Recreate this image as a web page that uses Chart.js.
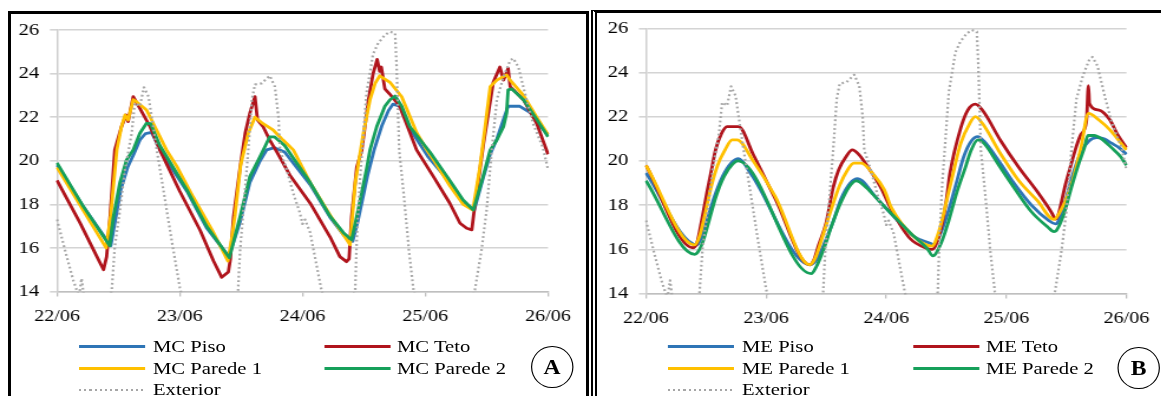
<!DOCTYPE html>
<html>
<head>
<meta charset="utf-8">
<script src="https://cdn.jsdelivr.net/npm/chart.js@4.4.0/dist/chart.umd.min.js"></script>
<style>
  body { margin: 0; background: #fff; width: 1161px; height: 396px; overflow: hidden; position: relative;
         font-family: "Liberation Serif", "Times New Roman", serif; }
  .panel { position: absolute; top: 0; height: 396px; transform-origin: 0 0; }
  .panel canvas { position: absolute; left: 0; top: 0; }
  .key { position: absolute; height: 3px; }
  .lab { position: absolute; font-size: 17.5px; line-height: 20px; color: #000; white-space: nowrap; }
  .circ { position: absolute; border: 1.4px solid #000; border-radius: 50%; box-sizing: border-box;
          font-weight: bold; font-size: 20px; display: flex; align-items: center; justify-content: center; }
  #frameA { position: absolute; left: 8px; top: 11px; width: 581px; height: 420px; border: 3.5px solid #000; box-sizing: border-box; }
  #frameB { position: absolute; left: 591px; top: 10px; width: 600px; height: 420px; border-top: 3px solid #000; border-left: 6px double #000; box-sizing: border-box; }
</style>
</head>
<body>
<div id="frameA"></div>
<div id="frameB"></div>
<div id="panelA" class="panel"></div>
<div id="panelB" class="panel"></div>
<script>
// horizontal stretch of the original figure
const S = 1.18;

const dayLabels = ['22/06', '23/06', '24/06', '25/06', '26/06'];
const yMin = 14, yMax = 26, yStep = 2;

// hours since 22/06 00:00 and temperatures (°C)

// ---- panel A (MC) ----
const aPisoH = [0, 5, 10.5, 11.2, 12.5, 13.8, 15, 16.2, 17.3, 18.5, 20.5, 25.4, 29.3, 33.6, 35.8, 37.7, 39.7, 41, 42.5, 44.5, 49.5, 53.4, 56, 57.8, 58.8, 60.7, 62, 63.5, 64.8, 65.7, 67, 69.2, 72.5, 76.8, 79.4, 81.6, 83.3, 84.7, 86, 87.3, 88.2, 90.5, 92.6, 94, 96];
const aPisoV = [19.8, 17.95, 16.1, 17.0, 18.7, 19.7, 20.3, 20.95, 21.25, 21.3, 20.35, 18.6, 16.9, 15.6, 17.2, 19.0, 20.0, 20.5, 20.6, 20.4, 18.9, 17.4, 16.6, 16.3, 17.2, 19.3, 20.5, 21.6, 22.3, 22.6, 22.5, 21.4, 20.2, 19.0, 18.1, 17.75, 19.2, 20.3, 21.0, 21.9, 22.5, 22.5, 22.2, 21.7, 21.2];

const aTetoH = [0, 4.5, 7.8, 9.1, 9.7, 10.4, 11.3, 12.6, 13.5, 13.9, 14.9, 16.2, 18.2, 20.1, 24, 28, 30.6, 32.2, 33.5, 33.9, 34.5, 35.8, 36.8, 37.7, 38.7, 39.2, 40.3, 41.6, 43, 45.5, 49.5, 53.4, 55.3, 56.6, 57.1, 57.6, 58.6, 59.6, 60.9, 61.8, 62.6, 63.1, 63.4, 64.1, 65.1, 67, 70.3, 73.6, 76.8, 78.8, 80.1, 81.1, 81.5, 83.4, 85.3, 86.6, 87.3, 88.2, 88.6, 91.2, 93.8, 96];
const aTetoV = [19.1, 17.15, 15.6, 15.0, 15.6, 17.5, 20.5, 21.56, 22.1, 21.8, 22.94, 22.4, 21.56, 20.5, 18.6, 16.8, 15.4, 14.65, 14.9, 15.5, 17.4, 19.7, 21.27, 22.18, 22.94, 21.87, 21.56, 20.95, 20.4, 19.35, 18.05, 16.5, 15.6, 15.37, 15.5, 17.44, 19.7, 20.5, 22.8, 24.0, 24.65, 24.1, 24.3, 23.3, 23.05, 22.5, 20.5, 19.27, 18.05, 17.13, 16.9, 16.83, 17.6, 20.8, 23.6, 24.3, 23.7, 24.24, 23.4, 22.8, 21.7, 20.3];

const aPar1H = [0, 9.6, 10.5, 11.7, 12.6, 13.3, 13.9, 14.9, 15.3, 17.5, 19.5, 21.4, 23.4, 26.6, 30.6, 33.4, 34.2, 34.8, 35.9, 37.4, 38.7, 40.3, 42.3, 44.2, 46.2, 49.5, 53.4, 56, 57.3, 58.3, 59.9, 61.2, 62.2, 63.1, 65.1, 67.4, 70.3, 72.3, 73.6, 76.8, 79.4, 81.3, 82.7, 83.7, 84.7, 86, 87.9, 88.6, 91.2, 93.8, 96];
const aPar1V = [19.7, 16.0, 17.5, 20.5, 21.56, 22.1, 21.87, 22.8, 22.75, 22.33, 21.4, 20.5, 19.75, 18.35, 16.7, 15.4, 16.5, 17.5, 19.8, 21.26, 22.0, 21.7, 21.4, 20.95, 20.5, 19.0, 17.5, 16.6, 16.14, 18.97, 21.26, 22.8, 23.55, 23.9, 23.6, 22.94, 21.3, 20.5, 20.05, 18.85, 18.0, 17.74, 19.73, 21.56, 23.4, 23.7, 23.94, 23.7, 23.0, 22.0, 21.2];

const aPar2H = [0, 5, 10.3, 11, 12.3, 13.6, 14.9, 16.2, 17.5, 18.3, 20.1, 25.4, 29.3, 33.7, 35.8, 37.7, 39.7, 41.6, 42.5, 44.5, 49.5, 53.4, 56, 57.6, 58.6, 60.5, 61.2, 62.5, 64.1, 65.1, 66.1, 67.4, 69, 72.9, 76.8, 79.4, 81.4, 83.3, 84.7, 86, 87.3, 87.9, 88.2, 88.9, 91.2, 93.8, 96];
const aPar2V = [19.9, 17.95, 16.1, 17.4, 19.0, 20.04, 20.5, 21.26, 21.72, 21.7, 20.7, 18.66, 16.98, 15.55, 17.44, 19.27, 20.19, 21.1, 21.1, 20.7, 19.0, 17.45, 16.7, 16.37, 17.44, 19.6, 20.5, 21.56, 22.5, 22.8, 22.97, 22.5, 21.56, 20.4, 19.1, 18.2, 17.74, 19.27, 20.5, 20.95, 21.56, 22.18, 23.25, 23.3, 22.8, 21.9, 21.1];

// ---- panel B (ME) ----
const bPisoH = [0, 10.2, 11, 12.3, 13.7, 15.3, 17, 18.5, 21, 32.8, 34, 35.5, 37.3, 39, 40.8, 42.3, 43.2, 45.4, 49, 53.4, 57, 57.5, 59, 60.5, 62, 63.5, 65, 66.3, 67.5, 70.5, 73.5, 77, 80.5, 81.8, 82.2, 83.8, 85.3, 86.9, 88.5, 90, 91.5, 93, 94.5, 96];
const bPisoV = [19.45, 16.2, 16.5, 17.4, 18.4, 19.3, 19.9, 20.1, 19.4, 15.3, 15.5, 16.2, 17.2, 18.3, 19.0, 19.2, 19.1, 18.5, 17.6, 16.6, 16.25, 16.2, 16.8, 17.8, 19.0, 20.2, 20.9, 21.1, 20.9, 20.0, 19.0, 18.0, 17.3, 17.15, 17.2, 18.2, 19.4, 20.4, 20.9, 21.05, 21.0, 20.8, 20.6, 20.3];

const bTetoH = [0, 9.4, 10.2, 11.2, 12.2, 13, 13.9, 15, 16.2, 18.5, 21.4, 25.8, 32.7, 33.5, 34.5, 36, 37.4, 38.5, 40, 41.2, 42.5, 44.7, 46.9, 49, 52.7, 56, 57.2, 58.9, 60, 60.7, 62.9, 64.3, 65.8, 67.2, 70.9, 74.5, 78.2, 81.1, 81.8, 84, 86.9, 88, 88.4, 88.6, 90.5, 92.7, 94.2, 96];
const bTetoV = [19.8, 16.07, 16.3, 17.4, 18.6, 19.5, 20.5, 21.2, 21.55, 21.55, 20.3, 18.3, 15.3, 15.5, 16.2, 17.2, 18.8, 19.6, 20.2, 20.5, 20.3, 19.6, 18.8, 17.8, 16.5, 16.05, 16.0, 16.9, 18.2, 19.4, 21.5, 22.3, 22.57, 22.3, 20.9, 19.7, 18.6, 17.64, 17.37, 19.1, 21.2, 21.8, 23.4, 22.6, 22.3, 21.85, 21.2, 20.6];

const bPar1H = [0, 9.7, 10.7, 11.8, 13, 14.3, 15.8, 17.2, 18.2, 21.4, 25.8, 32.7, 33.8, 35.3, 37, 38.7, 40.3, 41.5, 43, 45.4, 47.6, 49, 53.4, 57.1, 58.5, 60.7, 62.9, 64.7, 65.8, 67.2, 70.9, 74.5, 78.2, 81.5, 82.5, 84.7, 86.9, 88.4, 90.5, 92.7, 94.9, 96];
const bPar1V = [19.8, 16.2, 16.6, 17.6, 18.8, 19.8, 20.5, 20.95, 20.95, 20.0, 18.4, 15.3, 15.6, 16.6, 17.8, 18.9, 19.6, 19.9, 19.9, 19.4, 18.7, 17.9, 16.6, 16.14, 16.8, 18.8, 20.8, 21.7, 22.0, 21.7, 20.3, 19.1, 18.2, 17.35, 17.6, 18.7, 20.6, 22.15, 21.85, 21.4, 20.8, 20.5];

const bPar2H = [0, 9.75, 10.3, 11.3, 12.6, 14, 15.6, 17.3, 18.3, 33, 34, 35.5, 37, 38.7, 40.5, 42, 44, 46.5, 49.5, 53, 56.3, 57.3, 59, 60.5, 62, 63.8, 65, 66.3, 67.5, 70.5, 73.5, 77, 80.3, 81.5, 82, 83.5, 85, 86.5, 87.6, 88.3, 89.5, 91, 93, 94.8, 96];
const bPar2V = [19.1, 15.77, 15.85, 16.3, 17.3, 18.4, 19.3, 19.85, 20.0, 14.9, 15.2, 16.0, 17.0, 18.0, 18.8, 19.1, 18.8, 18.2, 17.5, 16.7, 16.0, 15.7, 16.3, 17.3, 18.5, 19.7, 20.5, 20.95, 20.8, 19.8, 18.8, 17.7, 17.0, 16.8, 16.85, 17.6, 18.8, 19.9, 20.6, 21.15, 21.15, 21.0, 20.6, 20.2, 19.8];

// ---- outdoor air, same in both panels ----
const extH = [0, 1.9, 3.2, 3.8, 4.3, 4.8, 5.3, 7, 9.5, 10.7, 11.3, 12.3, 13.3, 14.6, 15.2, 16.2, 17, 17.9, 18.8, 19.5, 20.8, 22.4, 24, 25, 30, 34, 35.4, 35.8, 37.4, 38.1, 38.7, 40, 41.6, 42.6, 43.3, 43.6, 44.9, 46.2, 47.5, 48, 48.5, 49.5, 50.8, 51.7, 53, 56, 58.3, 58.6, 59.2, 60.5, 61.8, 62.8, 64.1, 65.1, 66.1, 66.4, 66.9, 67.9, 68.8, 69.7, 71, 77, 80.5, 81.7, 83, 84, 85, 86, 87.3, 88.6, 89.2, 90.2, 91.8, 93.1, 95, 96];
const extV = [17.3, 15.6, 14.5, 14.1, 13.8, 14.6, 13.7, 12.5, 12.8, 14.07, 16.06, 17.74, 19.6, 21.26, 22.65, 22.5, 23.37, 22.94, 21.56, 20.5, 18.66, 16.37, 14.2, 13.2, 11.5, 12.5, 14.07, 15.9, 20.5, 22.8, 23.5, 23.55, 23.9, 23.4, 22.0, 20.5, 19.6, 18.5, 17.6, 17.1, 17.3, 16.7, 15.14, 14.07, 13.0, 12.5, 14.07, 16.37, 19.0, 23.1, 24.9, 25.4, 25.77, 25.92, 25.85, 24.3, 20.5, 18.2, 15.9, 14.07, 13.0, 12.0, 13.0, 14.07, 15.9, 17.74, 20.5, 22.8, 23.86, 24.6, 24.7, 24.3, 22.8, 21.7, 20.6, 19.6];

const colors = ['#2E75B6', '#B0141C', '#FFC000', '#16A05A', '#A6A6A6'];
const drawOrder = [4, 3, 2, 1, 0];   // exterior on top, like the spreadsheet

const panels = [
  { key: 'A', left: 0, width: 590, plotL: 57, plotR: 548, top: 30, bottom: 291.5, circle: [552, 367], smooth: false,
    names: ['MC Piso', 'MC Teto', 'MC Parede 1', 'MC Parede 2', 'Exterior'],
    series: [[aPisoH, aPisoV], [aTetoH, aTetoV], [aPar1H, aPar1V], [aPar2H, aPar2V], [extH, extV]] },
  { key: 'B', left: 590, width: 571, plotL: 646, plotR: 1134, top: 28.3, bottom: 293.5, circle: [1138.6, 368], smooth: true,
    names: ['ME Piso', 'ME Teto', 'ME Parede 1', 'ME Parede 2', 'Exterior'],
    series: [[bPisoH, bPisoV], [bTetoH, bTetoV], [bPar1H, bPar1V], [bPar2H, bPar2V], [extH, extV]] }
];

const FONT = "'Liberation Serif', 'Times New Roman', serif";
const CH = 340;

function pts(h, v) {
  return h.map((x, i) => ({ x: x, y: v[i] }));
}

function buildPanel(p) {
  const div = document.getElementById('panel' + p.key);
  const w = Math.round(p.width / S);
  div.style.left = p.left + 'px';
  div.style.width = w + 'px';
  div.style.transform = 'scaleX(' + S + ')';

  const cv = document.createElement('canvas');
  cv.width = w;
  cv.height = CH;
  cv.style.width = w + 'px';
  cv.style.height = CH + 'px';
  div.appendChild(cv);

  const yW = (p.plotL - p.left) / S;
  const padR = w - (p.plotR - p.left) / S;
  const xH = CH - p.bottom;

  const datasets = p.series.map((s, i) => ({
    label: p.names[i],
    data: pts(s[0], s[1]),
    borderColor: colors[i],
    borderWidth: i === 4 ? 2.2 : 2.8,
    borderDash: i === 4 ? [1.8, 2.6] : [],
    borderJoinStyle: 'round',
    pointRadius: 0,
    tension: 0,
    cubicInterpolationMode: (p.smooth && i < 4) ? 'monotone' : 'default',
    fill: false,
    order: drawOrder[i],
    clip: 1
  }));

  new Chart(cv.getContext('2d'), {
    type: 'line',
    data: { datasets: datasets },
    options: {
      responsive: false,
      animation: false,
      devicePixelRatio: 1,
      layout: { padding: { left: 0, right: padR, top: p.top, bottom: 0 } },
      plugins: { legend: { display: false }, tooltip: { enabled: false } },
      scales: {
        x: {
          type: 'linear', min: 0, max: 96,
          afterFit: s => { s.height = xH; },
          afterBuildTicks: s => { s.ticks = dayLabels.map((_, i) => ({ value: i * 24 })); },
          ticks: { callback: v => dayLabels[Math.round(v / 24)], maxRotation: 0, autoSkip: false,
                   color: '#000', padding: 10, font: { family: FONT, size: 17 } },
          grid: { drawOnChartArea: false, drawTicks: true, tickLength: 5, color: '#BFBFBF', lineWidth: 1.3 },
          border: { color: '#BFBFBF', width: 1.5 }
        },
        y: {
          min: yMin, max: yMax,
          afterFit: s => { s.width = yW; },
          ticks: { stepSize: yStep, color: '#000', padding: 9, font: { family: FONT, size: 17.5 } },
          grid: { color: '#D4D4D4', lineWidth: 1.6, tickLength: 6 },
          border: { color: '#CFCFCF', width: 1.5 }
        }
      }
    }
  });

  // legend: 2 columns, 3 rows
  const slots = [[0, 0], [1, 0], [0, 1], [1, 1], [0, 2]];
  const rowsY = [346.5, 368.5, 390];
  const colLine = [[22, 88], [267, 334]];
  const colText = [96, 340];
  p.names.forEach((name, i) => {
    const c = slots[i][0], r = slots[i][1];
    const key = document.createElement('div');
    key.className = 'key';
    const x0 = (p.plotL + colLine[c][0] - p.left) / S;
    const x1 = (p.plotL + colLine[c][1] - p.left) / S;
    key.style.left = x0 + 'px';
    key.style.width = (x1 - x0) + 'px';
    key.style.top = (rowsY[r] - 1.5) + 'px';
    if (i === 4) {
      key.style.height = '2px';
      key.style.background = 'repeating-linear-gradient(90deg, #A6A6A6 0 1.8px, transparent 1.8px 4.4px)';
    } else {
      key.style.background = colors[i];
    }
    div.appendChild(key);

    const lab = document.createElement('div');
    lab.className = 'lab';
    lab.textContent = name;
    lab.style.left = ((p.plotL + colText[c] - p.left) / S) + 'px';
    lab.style.top = (rowsY[r] - 11) + 'px';
    div.appendChild(lab);
  });

  // circled panel letter
  const d = 42;
  const circ = document.createElement('div');
  circ.className = 'circ';
  circ.textContent = p.key;
  circ.style.width = (d / S) + 'px';
  circ.style.height = d + 'px';
  circ.style.left = ((p.circle[0] - d / 2 - p.left) / S) + 'px';
  circ.style.top = (p.circle[1] - d / 2) + 'px';
  div.appendChild(circ);
}

panels.forEach(buildPanel);
</script>
</body>
</html>
